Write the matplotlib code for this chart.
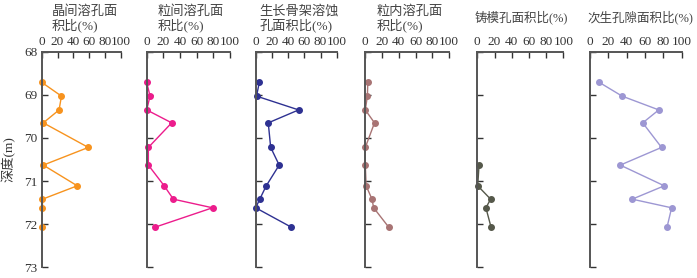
import matplotlib.pyplot as plt

# depths (m) of the sampled points
depth = [68.71, 69.03, 69.35, 69.65, 70.22, 70.63, 71.11, 71.42, 71.62, 72.07]

# area ratio (%) for each pore type
crystal = [0, 25, 22, 2, 59, 2, 45, 1, 1, 0]
intergranular = [0, 4, 0, 30, 2, 2, 21, 32, 79, 10]
framework = [4.5, 1, 53, 15.5, 18.5, 29, 13, 5, 0, 44]
intragranular = [3, 2.5, 0, 11, 0, 0, 1, 8, 10, 28]
mold_depth = [70.63, 71.11, 71.42, 71.62, 72.07]
mold = [2, 0.5, 15.5, 10, 16]
secondary = [10, 35, 75, 57.5, 78, 33, 81, 46, 89, 84]

titles = ["晶间溶孔面\n积比(%)", "粒间溶孔面\n积比(%)", "生长骨架溶蚀\n孔面积比(%)",
          "粒内溶孔面\n积比(%)", "铸模孔面积比(%)", "次生孔隙面积比(%)"]
colors = ["#F7931E", "#EC1C8C", "#2E3192", "#A87474", "#55584A", "#9D97D3"]
x_ticks = [0, 20, 40, 60, 80, 100]
y_ticks = [68, 69, 70, 71, 72, 73]

serif = ["Liberation Serif", "Noto Sans CJK SC"]


def plot_data():
    fig = plt.figure(figsize=(6.97, 2.78), dpi=100)
    W, H = 697, 278
    # panel left/right edges in pixels
    edges = [(41.7, 120.7), (146.7, 230), (255.7, 336.7),
             (365.3, 449), (477.3, 563.3), (590, 681.7)]
    title_x = [51.7, 157.3, 259.3, 376.7, 475, 587]
    top, bottom = 51.7, 267.3
    series = [(depth, crystal), (depth, intergranular), (depth, framework),
              (depth, intragranular), (mold_depth, mold), (depth, secondary)]

    for i, ((l, r), (d, v)) in enumerate(zip(edges, series)):
        ax = fig.add_axes([l / W, (H - bottom) / H, (r - l) / W, (bottom - top) / H])
        ax.plot(v, d, color=colors[i], lw=1.0, marker="o", ms=4, clip_on=False)
        ax.set_xlim(0, 100)
        ax.set_ylim(73, 68)
        ax.xaxis.tick_top()
        ax.set_xticks(x_ticks)
        ax.set_xticklabels([str(t) for t in x_ticks], fontfamily=serif, fontsize=9.5, color="#333333")
        ax.set_yticks(y_ticks)
        if i == 0:
            ax.set_yticklabels([str(t) for t in y_ticks], fontfamily=serif, fontsize=9.5, color="#333333")
            ax.set_ylabel("深度(m)", fontfamily=serif, fontsize=9.5, color="#333333", labelpad=6)
        else:
            ax.set_yticklabels([])
        ax.tick_params(axis="both", direction="in", length=4, width=1, color="#333333", pad=3)
        for s in ["right", "bottom"]:
            ax.spines[s].set_visible(False)
        for s in ["left", "top"]:
            ax.spines[s].set_color("#555555")
            ax.spines[s].set_linewidth(1.4)
        ax.patch.set_alpha(0)

        if "\n" in titles[i]:
            fig.text(title_x[i] / W, 1 - 5 / H, titles[i], ha="left", va="top", fontfamily=serif,
                     fontsize=9.5, color="#444444", linespacing=1.1)
        else:
            fig.text(title_x[i] / W, 1 - 17 / H, titles[i], ha="left", va="center", fontfamily=serif,
                     fontsize=9, color="#444444")

    plt.savefig("out.png", dpi=100)


if __name__ == "__main__":
    plot_data()
